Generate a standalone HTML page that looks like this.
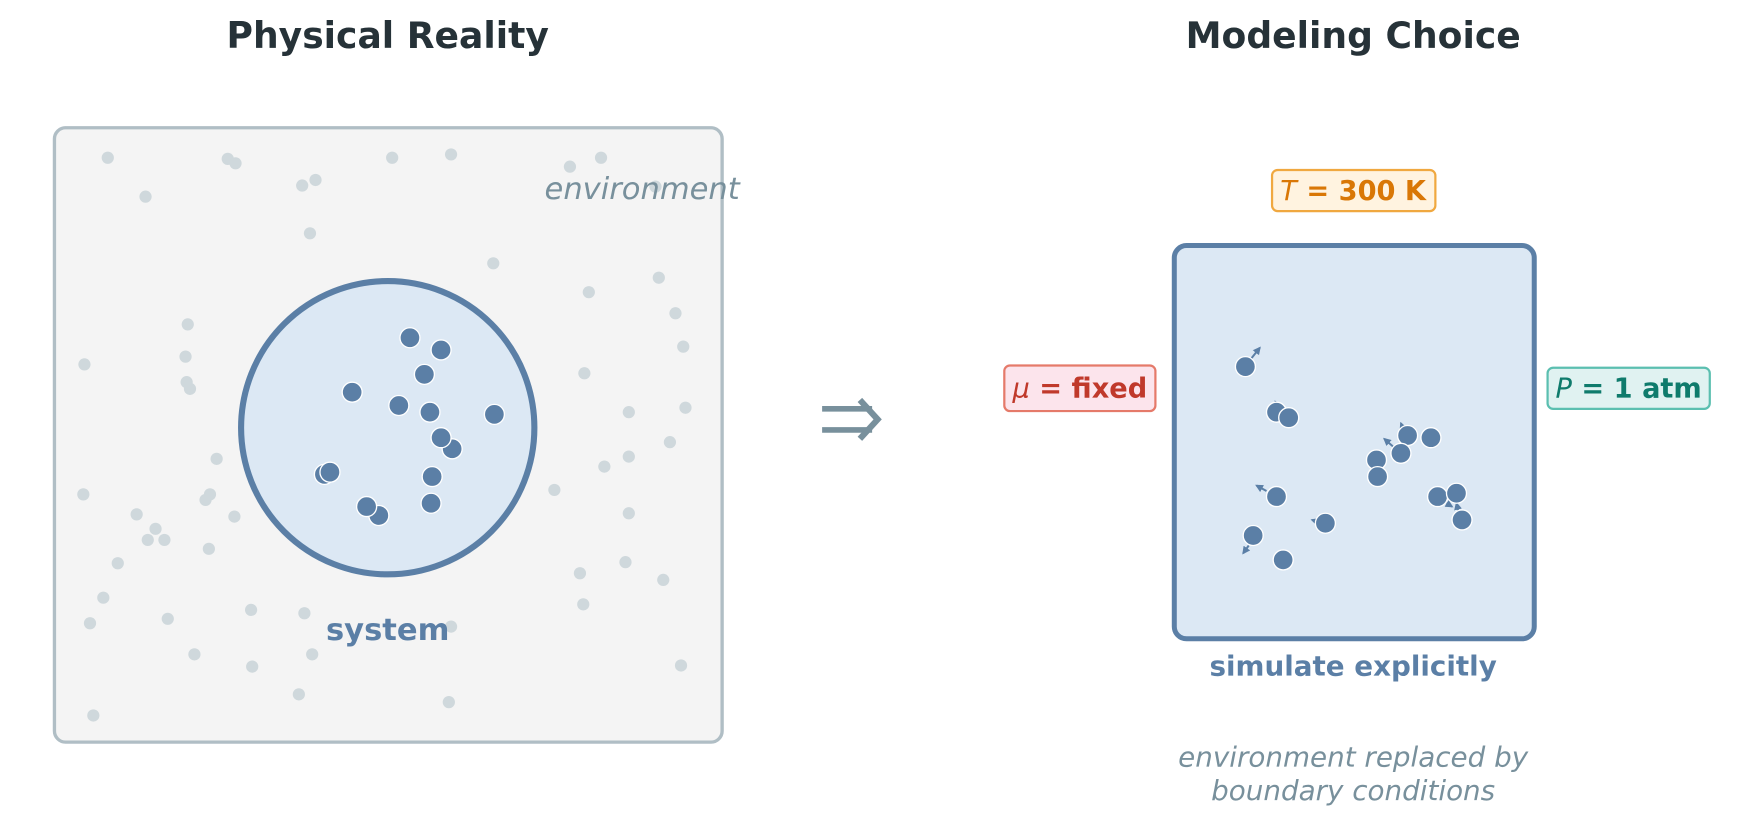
<!DOCTYPE html>
<html><head><meta charset="utf-8"><style>
html,body{margin:0;padding:0;background:#fff;width:1742px;height:830px;overflow:hidden}
svg{display:block}
text{font-family:"DejaVu Sans","Liberation Sans",sans-serif}
</style></head><body>
<svg width="1742" height="830" viewBox="0 0 1568 747.1" xmlns="http://www.w3.org/2000/svg">
<defs>
<marker id="ah" viewBox="0 0 10 10" refX="8" refY="5" markerWidth="4" markerHeight="4" orient="auto"><path d="M0,0 L10,5 L0,10 z" fill="#5b7fa6"/></marker>
</defs>
<text x="349" y="43" text-anchor="middle" font-size="32.5" font-weight="bold" fill="#263238">Physical Reality</text>
<text x="1218" y="43" text-anchor="middle" font-size="32.5" font-weight="bold" fill="#263238">Modeling Choice</text>

<rect x="49" y="115" width="601" height="553" rx="10" fill="#f4f4f4" stroke="#b0bec5" stroke-width="3"/>
<g fill="#cfd8dc">
<circle cx="97" cy="142" r="5.5"/><circle cx="205" cy="143" r="5.5"/><circle cx="212" cy="147" r="5.5"/><circle cx="131" cy="177" r="5.5"/><circle cx="272" cy="167" r="5.5"/><circle cx="284" cy="162" r="5.5"/><circle cx="353" cy="142" r="5.5"/><circle cx="406" cy="139" r="5.5"/><circle cx="513" cy="150" r="5.5"/><circle cx="541" cy="142" r="5.5"/><circle cx="590" cy="168" r="5.5"/><circle cx="279" cy="210" r="5.5"/><circle cx="444" cy="237" r="5.5"/><circle cx="530" cy="263" r="5.5"/><circle cx="593" cy="250" r="5.5"/><circle cx="608" cy="282" r="5.5"/><circle cx="615" cy="312" r="5.5"/><circle cx="76" cy="328" r="5.5"/><circle cx="169" cy="292" r="5.5"/><circle cx="167" cy="321" r="5.5"/><circle cx="168" cy="344" r="5.5"/><circle cx="171" cy="350" r="5.5"/><circle cx="526" cy="336" r="5.5"/><circle cx="566" cy="371" r="5.5"/><circle cx="617" cy="367" r="5.5"/><circle cx="603" cy="398" r="5.5"/><circle cx="566" cy="411" r="5.5"/><circle cx="544" cy="420" r="5.5"/><circle cx="195" cy="413" r="5.5"/><circle cx="75" cy="445" r="5.5"/><circle cx="189" cy="445" r="5.5"/><circle cx="185" cy="450" r="5.5"/><circle cx="499" cy="441" r="5.5"/><circle cx="123" cy="463" r="5.5"/><circle cx="140" cy="476" r="5.5"/><circle cx="133" cy="486" r="5.5"/><circle cx="148" cy="486" r="5.5"/><circle cx="211" cy="465" r="5.5"/><circle cx="566" cy="462" r="5.5"/><circle cx="188" cy="494" r="5.5"/><circle cx="106" cy="507" r="5.5"/><circle cx="522" cy="516" r="5.5"/><circle cx="563" cy="506" r="5.5"/><circle cx="597" cy="522" r="5.5"/><circle cx="93" cy="538" r="5.5"/><circle cx="525" cy="544" r="5.5"/><circle cx="81" cy="561" r="5.5"/><circle cx="151" cy="557" r="5.5"/><circle cx="226" cy="549" r="5.5"/><circle cx="274" cy="552" r="5.5"/><circle cx="406" cy="564" r="5.5"/><circle cx="175" cy="589" r="5.5"/><circle cx="281" cy="589" r="5.5"/><circle cx="227" cy="600" r="5.5"/><circle cx="613" cy="599" r="5.5"/><circle cx="269" cy="625" r="5.5"/><circle cx="404" cy="632" r="5.5"/><circle cx="84" cy="644" r="5.5"/>
</g>
<text x="578" y="179" text-anchor="middle" font-size="27.5" font-style="italic" fill="#78909c">environment</text>
<circle cx="349" cy="385" r="132" fill="#dce8f4" stroke="#5b7fa6" stroke-width="5.5"/>
<g fill="#5b7fa6" stroke="#fff" stroke-width="1.2">
<circle cx="369" cy="304" r="9"/><circle cx="397" cy="315" r="9"/><circle cx="382" cy="337" r="9"/><circle cx="317" cy="353" r="9"/><circle cx="359" cy="365" r="9"/><circle cx="387" cy="371" r="9"/><circle cx="445" cy="373" r="9"/><circle cx="407" cy="404" r="9"/><circle cx="397" cy="394" r="9"/><circle cx="292" cy="427" r="9"/><circle cx="297" cy="425" r="9"/><circle cx="389" cy="429" r="9"/><circle cx="341" cy="464" r="9"/><circle cx="330" cy="456" r="9"/><circle cx="388" cy="453" r="9"/>
</g>
<text x="349" y="576" text-anchor="middle" font-size="27.5" font-weight="bold" fill="#5b7fa6">system</text>

<g fill="none" stroke="#78909c" stroke-width="5">
<path d="M740 368 H785 M740 387 H785"/>
<path d="M774 360 L790 377.5 L774 395" stroke-width="5.5"/>
</g>

<rect x="1057" y="221" width="324" height="354" rx="11" fill="#dce8f4" stroke="#5b7fa6" stroke-width="4.5"/>
<g stroke="#5b7fa6" stroke-width="1.8" fill="none" marker-end="url(#ah)">
<path d="M1126 323 L1134 313"/><path d="M1148 364 L1153 364"/><path d="M1140 442 L1131 437"/><path d="M1124 491 L1119 498"/><path d="M1187 470 L1181 468"/><path d="M1254 402 L1246 395"/><path d="M1263 386 L1261 381"/><path d="M1302 453 L1307 456"/><path d="M1313 461 L1311 453"/>
</g>
<g fill="#5b7fa6" stroke="#fff" stroke-width="1.2">
<circle cx="1121" cy="330" r="9"/><circle cx="1149" cy="371" r="9"/><circle cx="1160" cy="376" r="9"/><circle cx="1267" cy="392" r="9"/><circle cx="1288" cy="394" r="9"/><circle cx="1239" cy="414" r="9"/><circle cx="1261" cy="408" r="9"/><circle cx="1240" cy="429" r="9"/><circle cx="1149" cy="447" r="9"/><circle cx="1294" cy="447" r="9"/><circle cx="1311" cy="444" r="9"/><circle cx="1193" cy="471" r="9"/><circle cx="1316" cy="468" r="9"/><circle cx="1128" cy="482" r="9"/><circle cx="1155" cy="504" r="9"/>
</g>

<rect x="1145" y="153" width="147" height="37" rx="5" fill="#fff3e0" stroke="#f0a840" stroke-width="2"/>
<text x="1218" y="180" text-anchor="middle" font-size="24.5" font-weight="bold" fill="#d97706"><tspan font-style="italic" font-weight="normal">T</tspan> = 300 K</text>

<rect x="904" y="329" width="136" height="41" rx="5" fill="#fce4ec" stroke="#e57a6a" stroke-width="2"/>
<text x="972" y="358" text-anchor="middle" font-size="24.5" font-weight="bold" fill="#c0392b"><tspan font-style="italic" font-weight="normal">μ</tspan> = fixed</text>

<rect x="1393" y="331" width="146" height="37" rx="5" fill="#e0f2f1" stroke="#5bbfb0" stroke-width="2"/>
<text x="1466" y="358" text-anchor="middle" font-size="24.5" font-weight="bold" fill="#0f7b6c"><tspan font-style="italic" font-weight="normal">P</tspan> = 1 atm</text>

<text x="1218" y="608" text-anchor="middle" font-size="25" font-weight="bold" fill="#5b7fa6">simulate explicitly</text>
<text x="1218" y="690" text-anchor="middle" font-size="25" font-style="italic" fill="#78909c">environment replaced by</text>
<text x="1218" y="720" text-anchor="middle" font-size="25" font-style="italic" fill="#78909c">boundary conditions</text>
</svg>
</body></html>
